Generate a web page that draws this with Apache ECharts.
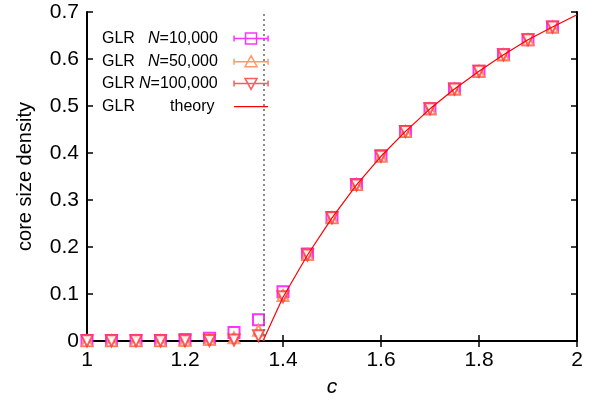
<!DOCTYPE html>
<html>
<head>
<meta charset="utf-8">
<script src="https://cdn.jsdelivr.net/npm/echarts@6/dist/echarts.min.js"></script>
<style>
  html, body { margin: 0; padding: 0; background: #fff; }
</style>
</head>
<body>
<div id="main" style="width: 595px; height: 403px;"></div>
<script type="text/javascript">
    // mean degree c
    var cVals = [1.0, 1.05, 1.1, 1.15, 1.2, 1.25, 1.3, 1.35, 1.4, 1.45,
                 1.5, 1.55, 1.6, 1.65, 1.7, 1.75, 1.8, 1.85, 1.9, 1.95];
    // core size density from simulations
    var n10k  = [0.001, 0.001, 0.001, 0.001, 0.003, 0.006, 0.018, 0.045, 0.105, 0.185,
                 0.263, 0.333, 0.394, 0.446, 0.494, 0.536, 0.574, 0.609, 0.641, 0.668];
    var n50k  = [0.0005, 0.0005, 0.0005, 0.0005, 0.001, 0.003, 0.007, 0.023, 0.097, 0.184,
                 0.262, 0.333, 0.393, 0.446, 0.494, 0.536, 0.574, 0.609, 0.641, 0.668];
    var n100k = [0.0003, 0.0003, 0.0003, 0.0003, 0.0005, 0.001, 0.002, 0.011, 0.094, 0.183,
                 0.262, 0.332, 0.393, 0.446, 0.494, 0.536, 0.574, 0.609, 0.641, 0.668];
    // theory curve
    var thC = [1.359, 1.4, 1.45, 1.5, 1.55, 1.6, 1.65, 1.7, 1.75, 1.8, 1.85, 1.9, 1.95, 2.0];
    var thY = [0, 0.093, 0.183, 0.262, 0.332, 0.393, 0.446, 0.494, 0.536, 0.574, 0.609, 0.641, 0.668, 0.694];
    var cTransition = 1.359;

    function pairs(xs, ys) {
        return xs.map(function (x, i) { return [x, ys[i]]; });
    }

    var font = 'Liberation Sans, Arial, Helvetica, sans-serif';
    var cMag = '#ff00ff', cOra = '#ff7f40', cRed = '#ff3333', cLine = '#ff0000';

    // legend samples: error bar with marker in the middle
    var bar = 'M0,6 L34,6 M0,3 L0,9 M34,3 L34,9 ';
    var iconSq = 'path://' + bar + 'M11.5,0.5 L22.5,0.5 L22.5,11.5 L11.5,11.5 Z';
    var iconUp = 'path://' + bar + 'M17,0 L23,11 L11,11 Z';
    var iconDn = 'path://' + bar + 'M11,1 L23,1 L17,12 Z';
    var iconLn = 'path://M0,0 L0,0 M0,6 L34,6 M34,12 L34,12';

    function seg(extra) {
        var s = { fontSize: 16, fontFamily: font, color: '#000', align: 'left', lineHeight: 12 };
        for (var k in extra) s[k] = extra[k];
        return s;
    }
    var rich = {
        g1: seg({ width: 46 }),
        g3: seg({ width: 37 }),
        g4: seg({ width: 68 }),
        n:  seg({ fontStyle: 'italic' }),
        v1: seg({ width: 69.5 }),
        v3: seg({ width: 78.5 }),
        t4: seg({ width: 59 })
    };
    var legendText = {
        'N=10,000':  '{g1|GLR}{n|N}{v1|=10,000}',
        'N=50,000':  '{g1|GLR}{n|N}{v1|=50,000}',
        'N=100,000': '{g3|GLR}{n|N}{v3|=100,000}',
        'theory':    '{g4|GLR}{t4|theory}'
    };

    var myChart = echarts.init(document.getElementById('main'));

    var axisLine = { show: true, lineStyle: { color: '#000', width: 2 } };
    var tickIn = { show: true, inside: true, length: 6, lineStyle: { color: '#000', width: 1.5 } };

    var option = {
        animation: false,
        backgroundColor: '#fff',
        grid: { left: 87, right: 18, top: 12, bottom: 61, containLabel: false },
        legend: {
            orient: 'vertical',
            align: 'right',
            left: 102,
            top: 30.5,
            padding: 0,
            itemWidth: 34,
            itemHeight: 12,
            itemGap: 6.7,
            selectedMode: false,
            formatter: function (name) { return legendText[name]; },
            textStyle: { color: '#000', rich: rich },
            data: [
                { name: 'N=10,000', icon: iconSq,
                  itemStyle: { color: 'rgba(0,0,0,0)', borderColor: cMag, borderWidth: 1.5 } },
                { name: 'N=50,000', icon: iconUp,
                  itemStyle: { color: 'rgba(0,0,0,0)', borderColor: cOra, borderWidth: 1.5 } },
                { name: 'N=100,000', icon: iconDn,
                  itemStyle: { color: 'rgba(0,0,0,0)', borderColor: cRed, borderWidth: 1.5 } },
                { name: 'theory', icon: iconLn,
                  itemStyle: { color: 'rgba(0,0,0,0)', borderColor: cLine, borderWidth: 1.3 } }
            ]
        },
        xAxis: [{
            type: 'value', min: 1, max: 2, interval: 0.2,
            name: 'c', nameLocation: 'middle', nameGap: 36,
            nameTextStyle: { fontSize: 21, fontStyle: 'italic', fontFamily: font, color: '#000' },
            axisLine: axisLine, axisTick: tickIn,
            axisLabel: { fontSize: 21, fontFamily: font, color: '#000', margin: 9 },
            splitLine: { show: false }
        }, {
            type: 'value', min: 1, max: 2, interval: 0.2, position: 'top',
            axisLine: axisLine, axisTick: tickIn,
            axisLabel: { show: false }, splitLine: { show: false }
        }],
        yAxis: [{
            type: 'value', min: 0, max: 0.7, interval: 0.1,
            name: 'core size density', nameLocation: 'middle', nameGap: 52,
            nameTextStyle: { fontSize: 20, fontFamily: font, color: '#000' },
            axisLine: axisLine, axisTick: tickIn,
            axisLabel: { fontSize: 21, fontFamily: font, color: '#000', margin: 8 },
            splitLine: { show: false }
        }, {
            type: 'value', min: 0, max: 0.7, interval: 0.1, position: 'right',
            axisLine: axisLine, axisTick: tickIn,
            axisLabel: { show: false }, splitLine: { show: false }
        }],
        series: [
            {
                name: 'N=10,000', type: 'scatter', clip: false,
                symbol: 'emptyRect', symbolSize: 11,
                itemStyle: { color: cMag, borderColor: cMag, borderWidth: 1.3 },
                data: pairs(cVals, n10k)
            },
            {
                name: 'N=50,000', type: 'scatter', clip: false,
                symbol: 'emptyTriangle', symbolSize: 11,
                itemStyle: { color: cOra, borderColor: cOra, borderWidth: 1.3 },
                data: pairs(cVals, n50k)
            },
            {
                name: 'N=100,000', type: 'scatter', clip: false,
                symbol: 'emptyTriangle', symbolSize: 11, symbolRotate: 180,
                itemStyle: { color: cRed, borderColor: cRed, borderWidth: 1.3 },
                data: pairs(cVals, n100k)
            },
            {
                name: 'theory', type: 'line', showSymbol: false, symbol: 'none',
                smooth: false,
                lineStyle: { color: cLine, width: 1.2 },
                itemStyle: { color: cLine },
                data: pairs(thC, thY),
                markLine: {
                    silent: true, symbol: 'none', label: { show: false },
                    lineStyle: { color: '#666', type: [2, 3], width: 1.5 },
                    data: [{ xAxis: cTransition }]
                }
            }
        ]
    };

    myChart.setOption(option);
</script>
</body>
</html>
